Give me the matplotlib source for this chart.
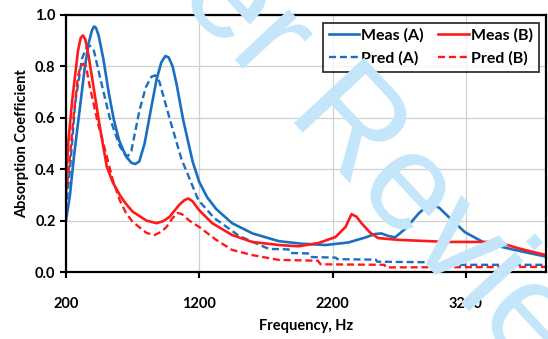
import matplotlib.pyplot as plt

plt.rcParams['font.family'] = ['Lato', 'DejaVu Sans']
plt.rcParams['font.weight'] = 'bold'

# ---------- data ----------
f_meas_a = [200, 230, 260, 300, 340, 370, 395, 410, 425, 445, 480, 520, 560, 600, 650, 690, 720, 750,
            790, 840, 880, 915, 945, 970, 1000, 1030, 1080, 1150, 1200, 1260, 1327, 1446, 1600, 1797,
            1969, 2148, 2320, 2450, 2520, 2566, 2620, 2670, 2750, 2850, 2931, 3000, 3100, 3193, 3342, 3566, 3800]
a_meas_a = [0.20, 0.30, 0.45, 0.62, 0.79, 0.89, 0.94, 0.955, 0.95, 0.92, 0.83, 0.70, 0.59, 0.51, 0.45, 0.425, 0.42, 0.43,
            0.50, 0.64, 0.75, 0.815, 0.84, 0.835, 0.80, 0.73, 0.59, 0.43, 0.35, 0.29, 0.245, 0.19, 0.15, 0.12,
            0.11, 0.105, 0.115, 0.135, 0.148, 0.15, 0.14, 0.135, 0.17, 0.23, 0.265, 0.25, 0.20, 0.155, 0.113, 0.086, 0.06]

f_pred_a = [200, 230, 270, 320, 355, 380, 410, 454, 528, 603, 640, 663, 690, 752, 800, 842, 870, 901, 976, 1066, 1193,
            1312, 1500, 1722, 1870, 1880, 2030, 2045, 2225, 2235, 2525, 2535, 2925, 2935, 3800]
a_pred_a = [0.24, 0.40, 0.66, 0.83, 0.875, 0.88, 0.86, 0.76, 0.60, 0.49, 0.46, 0.45, 0.47, 0.63, 0.72, 0.76, 0.765, 0.74, 0.60, 0.44, 0.28,
            0.21, 0.14, 0.09, 0.088, 0.074, 0.072, 0.058, 0.056, 0.05, 0.048, 0.04, 0.038, 0.028, 0.028]

f_meas_b = [200, 215, 245, 290, 310, 327, 345, 370, 402, 454, 506, 550, 603, 650, 700, 804, 879, 930, 976, 1051,
            1090, 1118, 1150, 1200, 1297, 1446, 1596, 1797, 1946, 2096, 2222, 2297, 2342, 2380, 2417, 2484,
            2543, 2693, 3066, 3237, 3439, 3588, 3800]
a_meas_b = [0.33, 0.49, 0.66, 0.86, 0.91, 0.92, 0.905, 0.84, 0.735, 0.565, 0.41, 0.35, 0.30, 0.265, 0.235, 0.20, 0.19, 0.198, 0.214, 0.262,
            0.28, 0.286, 0.275, 0.24, 0.19, 0.144, 0.117, 0.105, 0.10, 0.113, 0.136, 0.175, 0.225, 0.215, 0.19, 0.152,
            0.132, 0.125, 0.117, 0.117, 0.117, 0.093, 0.066]

f_pred_b = [200, 230, 260, 290, 310, 330, 350, 379, 439, 506, 550, 603, 650, 700, 804, 864, 910, 954, 1000, 1036, 1070,
            1125, 1200, 1327, 1446, 1596, 1797, 2090, 2110, 2590, 2600, 3800]
a_pred_b = [0.30, 0.45, 0.62, 0.76, 0.80, 0.81, 0.80, 0.72, 0.58, 0.45, 0.36, 0.28, 0.23, 0.195, 0.152, 0.144, 0.155, 0.175, 0.21, 0.23, 0.225,
            0.20, 0.175, 0.125, 0.086, 0.066, 0.047, 0.044, 0.03, 0.028, 0.018, 0.02]

blue = '#1a6fc0'
red = '#ff1a1a'

fig = plt.figure(figsize=(5.48, 3.39), dpi=100)
ax = fig.add_axes([0.1204, 0.1976, 0.8756, 0.7584])

l1, = ax.plot(f_meas_a, a_meas_a, color=blue, lw=1.9, label='Meas (A)')
l3, = ax.plot(f_pred_a, a_pred_a, color=blue, lw=1.7, ls=(0, (3, 1.6)), label='Pred (A)')
l2, = ax.plot(f_meas_b, a_meas_b, color=red, lw=1.9, label='Meas (B)')
l4, = ax.plot(f_pred_b, a_pred_b, color=red, lw=1.7, ls=(0, (3, 1.6)), label='Pred (B)')

ax.set_xlim(200, 3800)
ax.set_ylim(0, 1.0)
ax.set_xticks([200, 1200, 2200, 3200])
ax.set_yticks([0, 0.2, 0.4, 0.6, 0.8, 1.0])
ax.set_yticklabels(['0.0', '0.2', '0.4', '0.6', '0.8', '1.0'])
ax.grid(True, color='#d0d0d0', lw=0.9)
ax.set_axisbelow(True)
ax.tick_params(axis='both', labelsize=10.5, width=1.5, length=4, color='black')
ax.tick_params(axis='x', pad=14)
for s in ax.spines.values():
    s.set_color('black')
    s.set_linewidth(1.6)

ax.set_xlabel('Frequency, Hz', fontsize=10.5, fontweight='bold', labelpad=6)
ax.set_ylabel('Absorption Coefficient', fontsize=10.5, fontweight='bold', labelpad=4)

leg = ax.legend(handles=[l1, l3, l2, l4], ncol=2, loc='upper right',
                bbox_to_anchor=(0.985, 0.97), fontsize=11.5, frameon=True, fancybox=False,
                handlelength=1.9, handletextpad=0.15, columnspacing=0.9, labelspacing=0.55,
                borderpad=0.35, borderaxespad=0.0)
leg.get_frame().set_edgecolor('black')
leg.get_frame().set_linewidth(1.3)

# watermark
fig.text(270 / 548, 1 - 45 / 339, 'For Peer Review', fontsize=100, color='#c4e6fa', rotation=-47,
         ha='center', va='center', fontweight='normal', zorder=10, family='Liberation Sans')

fig.savefig('out.png', dpi=100)
